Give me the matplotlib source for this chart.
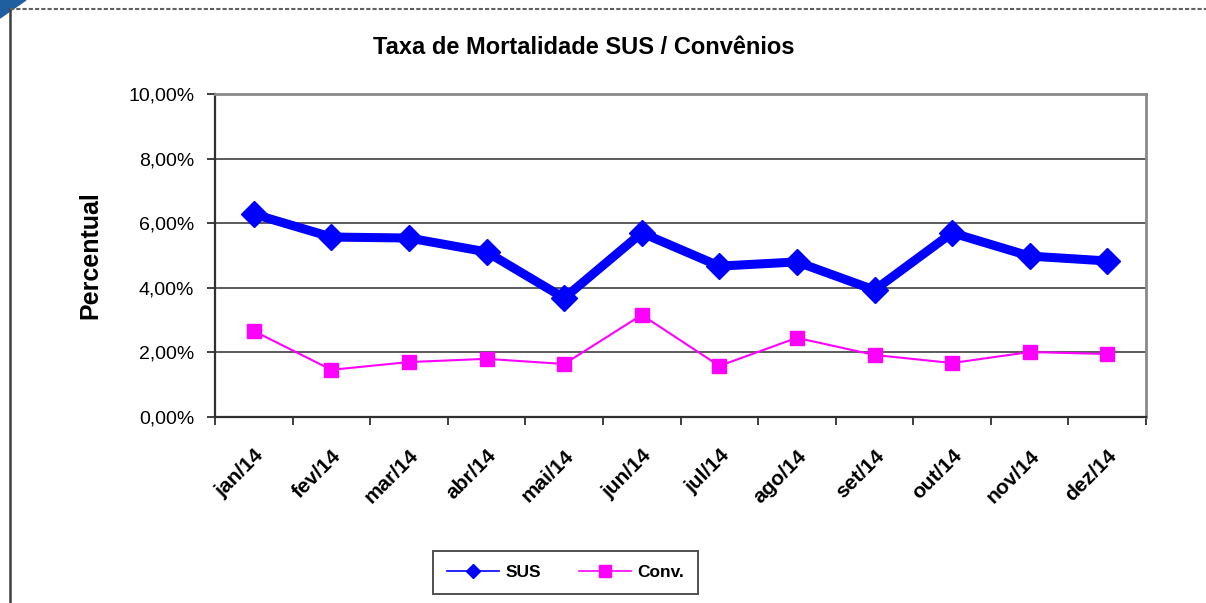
import matplotlib
matplotlib.use("Agg")
import matplotlib.pyplot as plt
from matplotlib.lines import Line2D
from matplotlib.patches import Polygon
from matplotlib.ticker import FuncFormatter, FixedLocator

plt.rcParams['font.family'] = ['Liberation Sans', 'DejaVu Sans']

# Data
months = ["jan/14", "fev/14", "mar/14", "abr/14", "mai/14", "jun/14",
          "jul/14", "ago/14", "set/14", "out/14", "nov/14", "dez/14"]
sus = [6.28, 5.57, 5.54, 5.11, 3.68, 5.70, 4.67, 4.80, 3.93, 5.70, 4.98, 4.83]
conv = [2.66, 1.46, 1.70, 1.80, 1.64, 3.16, 1.58, 2.45, 1.92, 1.67, 2.01, 1.95]

fig = plt.figure(figsize=(12.06, 6.03), dpi=100)
ax = fig.add_axes([0.1783, 0.3085, 0.7720, 0.5357])

x = list(range(len(months)))
ax.plot(x, sus, color="#0000ff", lw=6.5, marker="D", markersize=13, zorder=3)
ax.plot(x, conv, color="#ff00ff", lw=1.5, marker="s", markersize=10, zorder=3)

ax.set_xlim(-0.5, len(months) - 0.5)
ax.set_ylim(0, 10)
ax.set_yticks([0, 2, 4, 6, 8, 10])
ax.yaxis.set_major_formatter(FuncFormatter(lambda v, p: f"{v:.2f}%".replace(".", ",")))
ax.grid(axis="y", color="#404040", lw=1.2)
ax.set_axisbelow(True)

# category labels between tick marks
ax.xaxis.set_major_locator(FixedLocator([i - 0.5 for i in range(len(months) + 1)]))
ax.set_xticklabels([])
ax.xaxis.set_minor_locator(FixedLocator(x))
ax.set_xticklabels(months, minor=True, rotation=45, ha="right", rotation_mode="anchor",
                   fontsize=15, fontweight="bold")
ax.tick_params(axis="x", which="minor", length=0, pad=21)
ax.tick_params(axis="x", which="major", length=6, width=1.3, color="#303030")
ax.tick_params(axis="y", length=6, width=1.3, color="#303030", labelsize=14, pad=9)

for s in ["left", "bottom"]:
    ax.spines[s].set_color("#303030")
    ax.spines[s].set_linewidth(1.6)
for s in ["top", "right"]:
    ax.spines[s].set_color("#8a8a8a")
    ax.spines[s].set_linewidth(2)

ax.set_ylabel("Percentual", fontsize=18, fontweight="bold", va="center")
ax.yaxis.set_label_coords(-0.134, 0.5)
fig.text(0.484, 0.921, "Taxa de Mortalidade SUS / Convênios", ha="center", va="center",
         fontsize=17, fontweight="bold")

handles = [Line2D([], [], color="#0000ff", lw=1.2, marker="D", markersize=7),
           Line2D([], [], color="#ff00ff", lw=1.2, marker="s", markersize=8)]
leg = fig.legend(handles, ["SUS", "Conv."], loc="center", bbox_to_anchor=(0.469, 0.050),
                 ncol=2, fancybox=False, framealpha=1, edgecolor="#505050",
                 prop={"weight": "bold", "size": 12.5}, handlelength=3.0,
                 columnspacing=2.2, borderpad=0.8, handletextpad=0.35,
                 borderaxespad=0)
leg.get_frame().set_linewidth(1.4)

# page frame and corner decoration
fig.add_artist(Line2D([10 / 1206, 10 / 1206], [0, 1 - 9 / 603], transform=fig.transFigure,
                      color="#404040", lw=1.8))
fig.add_artist(Line2D([10 / 1206, 1], [1 - 9 / 603, 1 - 9 / 603], transform=fig.transFigure,
                      color="#606060", lw=1.5, ls=(0, (2, 1))))
fig.add_artist(Polygon([[0, 1], [26 / 1206, 1], [0, 1 - 18 / 603]], closed=True,
                       transform=fig.transFigure, color="#1f5fa0"))

fig.savefig("out.png", dpi=100)
